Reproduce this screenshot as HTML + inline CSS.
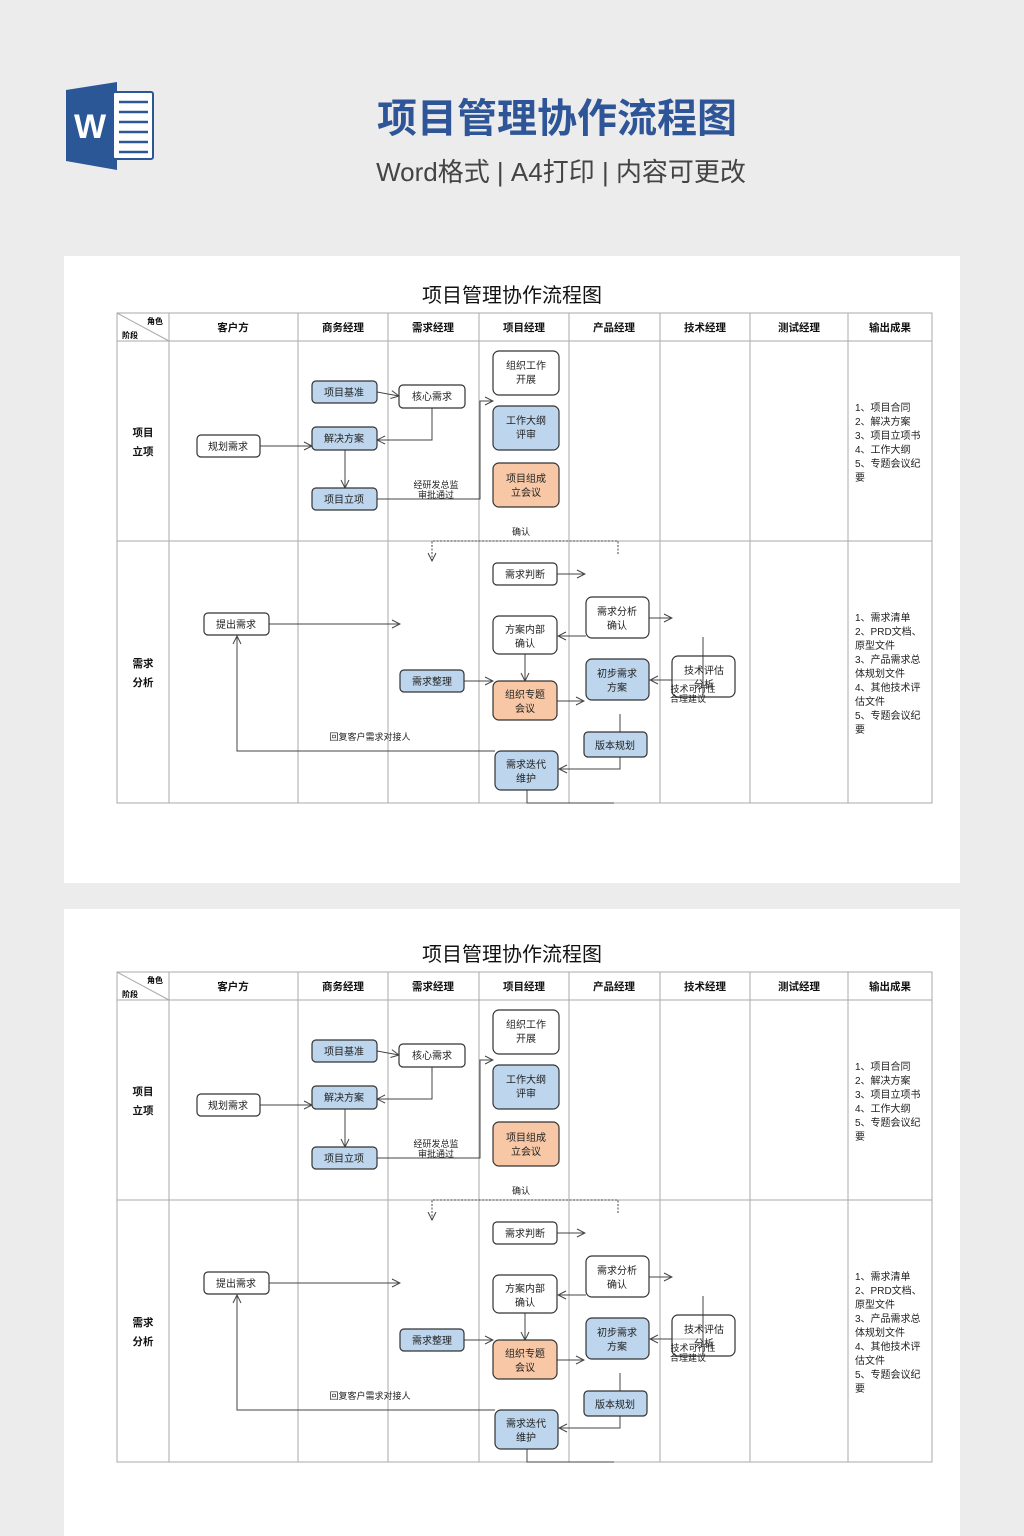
<!DOCTYPE html>
<html><head><meta charset="utf-8"><style>
html,body{margin:0;padding:0;background:#ececec;}
svg{display:block;font-family:"Liberation Sans","Noto Sans CJK SC",sans-serif;}
.b rect{stroke:#333;stroke-width:1.2;}
.w{fill:#fff}.bl{fill:#bdd6ed}.or{fill:#f8c8a6}
.t{font-size:10px;fill:#222;text-anchor:middle}
.h{font-size:10.5px;font-weight:bold;fill:#111;text-anchor:middle}
.o{font-size:10px;fill:#222}
.ln{stroke:#444;stroke-width:1;fill:none}
.g{stroke:#aaa;stroke-width:1;fill:none}
</style></head><body>
<svg width="1024" height="1536" viewBox="0 0 1024 1536" xmlns="http://www.w3.org/2000/svg">
<defs><marker id="a" markerWidth="10" markerHeight="10" refX="9" refY="5" orient="auto" markerUnits="userSpaceOnUse"><path d="M1,1 L9,5 L1,9" fill="none" stroke="#444" stroke-width="1"/></marker></defs>
<rect width="1024" height="1536" fill="#ececec"/>
<polygon points="66,90 117,82 117,170 66,161" fill="#2b5797"/>
<rect x="113" y="92" width="40" height="67" rx="2" fill="#fff" stroke="#2b5797" stroke-width="2"/>
<g stroke="#2b5797" stroke-width="2.5"><line x1="119" y1="102" x2="148" y2="102"/><line x1="119" y1="112" x2="148" y2="112"/><line x1="119" y1="122" x2="148" y2="122"/><line x1="119" y1="132" x2="148" y2="132"/><line x1="119" y1="142" x2="148" y2="142"/><line x1="119" y1="152" x2="148" y2="152"/></g>
<text x="90" y="138" font-size="34" font-weight="bold" fill="#fff" text-anchor="middle">W</text>
<text x="557" y="132" font-size="40" font-weight="bold" fill="#2e5597" text-anchor="middle">项目管理协作流程图</text>
<text x="561" y="181" font-size="26" fill="#444" text-anchor="middle">Word格式 | A4打印 | 内容可更改</text>
<rect x="64" y="256" width="896" height="627" fill="#fff"/>
<rect x="64" y="909" width="896" height="627" fill="#fff"/>

<g>
<text x="512" y="302" font-size="20" fill="#111" text-anchor="middle">项目管理协作流程图</text>
<rect x="117" y="313" width="815" height="490" class="g"/>
<line x1="117" y1="341" x2="932" y2="341" class="g"/><line x1="117" y1="541" x2="932" y2="541" class="g"/>
<g class="g"><line x1="169" y1="313" x2="169" y2="803"/><line x1="298" y1="313" x2="298" y2="803"/><line x1="388" y1="313" x2="388" y2="803"/><line x1="479" y1="313" x2="479" y2="803"/><line x1="569" y1="313" x2="569" y2="803"/><line x1="660" y1="313" x2="660" y2="803"/><line x1="750" y1="313" x2="750" y2="803"/><line x1="848" y1="313" x2="848" y2="803"/><line x1="117" y1="313" x2="169" y2="341"/></g>
<text x="155" y="324" font-size="8" font-weight="bold" text-anchor="middle">角色</text><text x="130" y="338" font-size="8" font-weight="bold" text-anchor="middle">阶段</text>
<text class="h" x="233" y="331">客户方</text><text class="h" x="343" y="331">商务经理</text><text class="h" x="433" y="331">需求经理</text><text class="h" x="524" y="331">项目经理</text><text class="h" x="614" y="331">产品经理</text><text class="h" x="705" y="331">技术经理</text><text class="h" x="799" y="331">测试经理</text><text class="h" x="890" y="331">输出成果</text>
<text class="h" x="143" y="436">项目</text><text class="h" x="143" y="455">立项</text>
<text class="h" x="143" y="667">需求</text><text class="h" x="143" y="686">分析</text>
<g class="o"><text x="855" y="411">1、项目合同</text><text x="855" y="425">2、解决方案</text><text x="855" y="439">3、项目立项书</text><text x="855" y="453">4、工作大纲</text><text x="855" y="467">5、专题会议纪</text><text x="855" y="481">要</text>
<text x="855" y="621">1、需求清单</text><text x="855" y="635">2、PRD文档、</text><text x="855" y="649">原型文件</text><text x="855" y="663">3、产品需求总</text><text x="855" y="677">体规划文件</text><text x="855" y="691">4、其他技术评</text><text x="855" y="705">估文件</text><text x="855" y="719">5、专题会议纪</text><text x="855" y="733">要</text></g>
<g class="ln">
<line x1="260" y1="446" x2="312" y2="446" marker-end="url(#a)"/>
<line x1="377" y1="392" x2="399" y2="396" marker-end="url(#a)"/>
<polyline points="432,408 432,440 377,440" marker-end="url(#a)"/>
<line x1="345" y1="450" x2="345" y2="488" marker-end="url(#a)"/>
<polyline points="377,499 480,499 480,401 493,401" marker-end="url(#a)"/>
<polyline points="618,554 618,541 432,541 432,561" stroke-dasharray="2,1.5" marker-end="url(#a)"/>
<line x1="557" y1="574" x2="585" y2="574" marker-end="url(#a)"/>
<line x1="269" y1="624" x2="400" y2="624" marker-end="url(#a)"/>
<line x1="649" y1="618" x2="672" y2="618" marker-end="url(#a)"/>
<line x1="586" y1="636" x2="558" y2="636" marker-end="url(#a)"/>
<line x1="525" y1="654" x2="525" y2="681" marker-end="url(#a)"/>
<line x1="464" y1="681" x2="493" y2="681" marker-end="url(#a)"/>
<line x1="557" y1="701" x2="584" y2="701" marker-end="url(#a)"/>
<line x1="703" y1="637" x2="703" y2="697"/>
<line x1="703" y1="680" x2="650" y2="680" marker-end="url(#a)"/>
<polyline points="620,714 620,769 559,769" marker-end="url(#a)"/>
<polyline points="527,790 527,803 614,803"/>
<polyline points="495,751 237,751 237,636" marker-end="url(#a)"/>
</g>
<g class="b">
<rect x="312" y="381" width="65" height="22" rx="4" class="bl"/><rect x="399" y="385" width="66" height="23" rx="4" class="w"/>
<rect x="312" y="427" width="65" height="23" rx="4" class="bl"/><rect x="312" y="488" width="65" height="22" rx="4" class="bl"/>
<rect x="197" y="435" width="63" height="22" rx="4" class="w"/>
<rect x="493" y="351" width="66" height="44" rx="6" class="w"/><rect x="493" y="406" width="66" height="44" rx="6" class="bl"/><rect x="493" y="463" width="66" height="44" rx="6" class="or"/>
<rect x="493" y="563" width="64" height="22" rx="4" class="w"/><rect x="493" y="616" width="64" height="38" rx="6" class="w"/>
<rect x="586" y="597" width="63" height="41" rx="6" class="w"/><rect x="586" y="659" width="63" height="41" rx="6" class="bl"/>
<rect x="672" y="656" width="63" height="41" rx="6" class="w" fill-opacity="0.6"/>
<rect x="400" y="670" width="64" height="22" rx="4" class="bl"/><rect x="493" y="681" width="64" height="39" rx="6" class="or"/>
<rect x="584" y="732" width="63" height="25" rx="4" class="bl"/><rect x="495" y="751" width="63" height="39" rx="6" class="bl"/>
<rect x="204" y="613" width="65" height="22" rx="4" class="w"/>
</g>
<line x1="703" y1="656" x2="703" y2="697" class="ln"/>
<g class="t">
<text x="344" y="396">项目基准</text><text x="432" y="400">核心需求</text><text x="344" y="442">解决方案</text><text x="344" y="503">项目立项</text><text x="228" y="450">规划需求</text>
<text x="526" y="369">组织工作</text><text x="526" y="383">开展</text><text x="526" y="424">工作大纲</text><text x="526" y="438">评审</text><text x="526" y="482">项目组成</text><text x="526" y="496">立会议</text>
<text x="436" y="488" font-size="9">经研发总监</text><text x="436" y="498" font-size="9">审批通过</text><text x="521" y="535" font-size="9">确认</text>
<text x="525" y="578">需求判断</text><text x="525" y="633">方案内部</text><text x="525" y="647">确认</text>
<text x="617" y="615">需求分析</text><text x="617" y="629">确认</text><text x="617" y="677">初步需求</text><text x="617" y="691">方案</text>
<text x="704" y="674">技术评估</text><text x="704" y="688">分析</text>
<text x="693" y="692" font-size="9">技术可行性</text><text x="688" y="702" font-size="9">合理建议</text>
<text x="432" y="685">需求整理</text><text x="525" y="698">组织专题</text><text x="525" y="712">会议</text>
<text x="615" y="749">版本规划</text><text x="526" y="768">需求迭代</text><text x="526" y="782">维护</text>
<text x="236" y="628">提出需求</text><text x="370" y="740" font-size="9">回复客户需求对接人</text>
</g>
</g>

<g transform="translate(0,659)">
<text x="512" y="302" font-size="20" fill="#111" text-anchor="middle">项目管理协作流程图</text>
<rect x="117" y="313" width="815" height="490" class="g"/>
<line x1="117" y1="341" x2="932" y2="341" class="g"/><line x1="117" y1="541" x2="932" y2="541" class="g"/>
<g class="g"><line x1="169" y1="313" x2="169" y2="803"/><line x1="298" y1="313" x2="298" y2="803"/><line x1="388" y1="313" x2="388" y2="803"/><line x1="479" y1="313" x2="479" y2="803"/><line x1="569" y1="313" x2="569" y2="803"/><line x1="660" y1="313" x2="660" y2="803"/><line x1="750" y1="313" x2="750" y2="803"/><line x1="848" y1="313" x2="848" y2="803"/><line x1="117" y1="313" x2="169" y2="341"/></g>
<text x="155" y="324" font-size="8" font-weight="bold" text-anchor="middle">角色</text><text x="130" y="338" font-size="8" font-weight="bold" text-anchor="middle">阶段</text>
<text class="h" x="233" y="331">客户方</text><text class="h" x="343" y="331">商务经理</text><text class="h" x="433" y="331">需求经理</text><text class="h" x="524" y="331">项目经理</text><text class="h" x="614" y="331">产品经理</text><text class="h" x="705" y="331">技术经理</text><text class="h" x="799" y="331">测试经理</text><text class="h" x="890" y="331">输出成果</text>
<text class="h" x="143" y="436">项目</text><text class="h" x="143" y="455">立项</text>
<text class="h" x="143" y="667">需求</text><text class="h" x="143" y="686">分析</text>
<g class="o"><text x="855" y="411">1、项目合同</text><text x="855" y="425">2、解决方案</text><text x="855" y="439">3、项目立项书</text><text x="855" y="453">4、工作大纲</text><text x="855" y="467">5、专题会议纪</text><text x="855" y="481">要</text>
<text x="855" y="621">1、需求清单</text><text x="855" y="635">2、PRD文档、</text><text x="855" y="649">原型文件</text><text x="855" y="663">3、产品需求总</text><text x="855" y="677">体规划文件</text><text x="855" y="691">4、其他技术评</text><text x="855" y="705">估文件</text><text x="855" y="719">5、专题会议纪</text><text x="855" y="733">要</text></g>
<g class="ln">
<line x1="260" y1="446" x2="312" y2="446" marker-end="url(#a)"/>
<line x1="377" y1="392" x2="399" y2="396" marker-end="url(#a)"/>
<polyline points="432,408 432,440 377,440" marker-end="url(#a)"/>
<line x1="345" y1="450" x2="345" y2="488" marker-end="url(#a)"/>
<polyline points="377,499 480,499 480,401 493,401" marker-end="url(#a)"/>
<polyline points="618,554 618,541 432,541 432,561" stroke-dasharray="2,1.5" marker-end="url(#a)"/>
<line x1="557" y1="574" x2="585" y2="574" marker-end="url(#a)"/>
<line x1="269" y1="624" x2="400" y2="624" marker-end="url(#a)"/>
<line x1="649" y1="618" x2="672" y2="618" marker-end="url(#a)"/>
<line x1="586" y1="636" x2="558" y2="636" marker-end="url(#a)"/>
<line x1="525" y1="654" x2="525" y2="681" marker-end="url(#a)"/>
<line x1="464" y1="681" x2="493" y2="681" marker-end="url(#a)"/>
<line x1="557" y1="701" x2="584" y2="701" marker-end="url(#a)"/>
<line x1="703" y1="637" x2="703" y2="697"/>
<line x1="703" y1="680" x2="650" y2="680" marker-end="url(#a)"/>
<polyline points="620,714 620,769 559,769" marker-end="url(#a)"/>
<polyline points="527,790 527,803 614,803"/>
<polyline points="495,751 237,751 237,636" marker-end="url(#a)"/>
</g>
<g class="b">
<rect x="312" y="381" width="65" height="22" rx="4" class="bl"/><rect x="399" y="385" width="66" height="23" rx="4" class="w"/>
<rect x="312" y="427" width="65" height="23" rx="4" class="bl"/><rect x="312" y="488" width="65" height="22" rx="4" class="bl"/>
<rect x="197" y="435" width="63" height="22" rx="4" class="w"/>
<rect x="493" y="351" width="66" height="44" rx="6" class="w"/><rect x="493" y="406" width="66" height="44" rx="6" class="bl"/><rect x="493" y="463" width="66" height="44" rx="6" class="or"/>
<rect x="493" y="563" width="64" height="22" rx="4" class="w"/><rect x="493" y="616" width="64" height="38" rx="6" class="w"/>
<rect x="586" y="597" width="63" height="41" rx="6" class="w"/><rect x="586" y="659" width="63" height="41" rx="6" class="bl"/>
<rect x="672" y="656" width="63" height="41" rx="6" class="w" fill-opacity="0.6"/>
<rect x="400" y="670" width="64" height="22" rx="4" class="bl"/><rect x="493" y="681" width="64" height="39" rx="6" class="or"/>
<rect x="584" y="732" width="63" height="25" rx="4" class="bl"/><rect x="495" y="751" width="63" height="39" rx="6" class="bl"/>
<rect x="204" y="613" width="65" height="22" rx="4" class="w"/>
</g>
<line x1="703" y1="656" x2="703" y2="697" class="ln"/>
<g class="t">
<text x="344" y="396">项目基准</text><text x="432" y="400">核心需求</text><text x="344" y="442">解决方案</text><text x="344" y="503">项目立项</text><text x="228" y="450">规划需求</text>
<text x="526" y="369">组织工作</text><text x="526" y="383">开展</text><text x="526" y="424">工作大纲</text><text x="526" y="438">评审</text><text x="526" y="482">项目组成</text><text x="526" y="496">立会议</text>
<text x="436" y="488" font-size="9">经研发总监</text><text x="436" y="498" font-size="9">审批通过</text><text x="521" y="535" font-size="9">确认</text>
<text x="525" y="578">需求判断</text><text x="525" y="633">方案内部</text><text x="525" y="647">确认</text>
<text x="617" y="615">需求分析</text><text x="617" y="629">确认</text><text x="617" y="677">初步需求</text><text x="617" y="691">方案</text>
<text x="704" y="674">技术评估</text><text x="704" y="688">分析</text>
<text x="693" y="692" font-size="9">技术可行性</text><text x="688" y="702" font-size="9">合理建议</text>
<text x="432" y="685">需求整理</text><text x="525" y="698">组织专题</text><text x="525" y="712">会议</text>
<text x="615" y="749">版本规划</text><text x="526" y="768">需求迭代</text><text x="526" y="782">维护</text>
<text x="236" y="628">提出需求</text><text x="370" y="740" font-size="9">回复客户需求对接人</text>
</g>
</g>
</svg>
</body></html>
